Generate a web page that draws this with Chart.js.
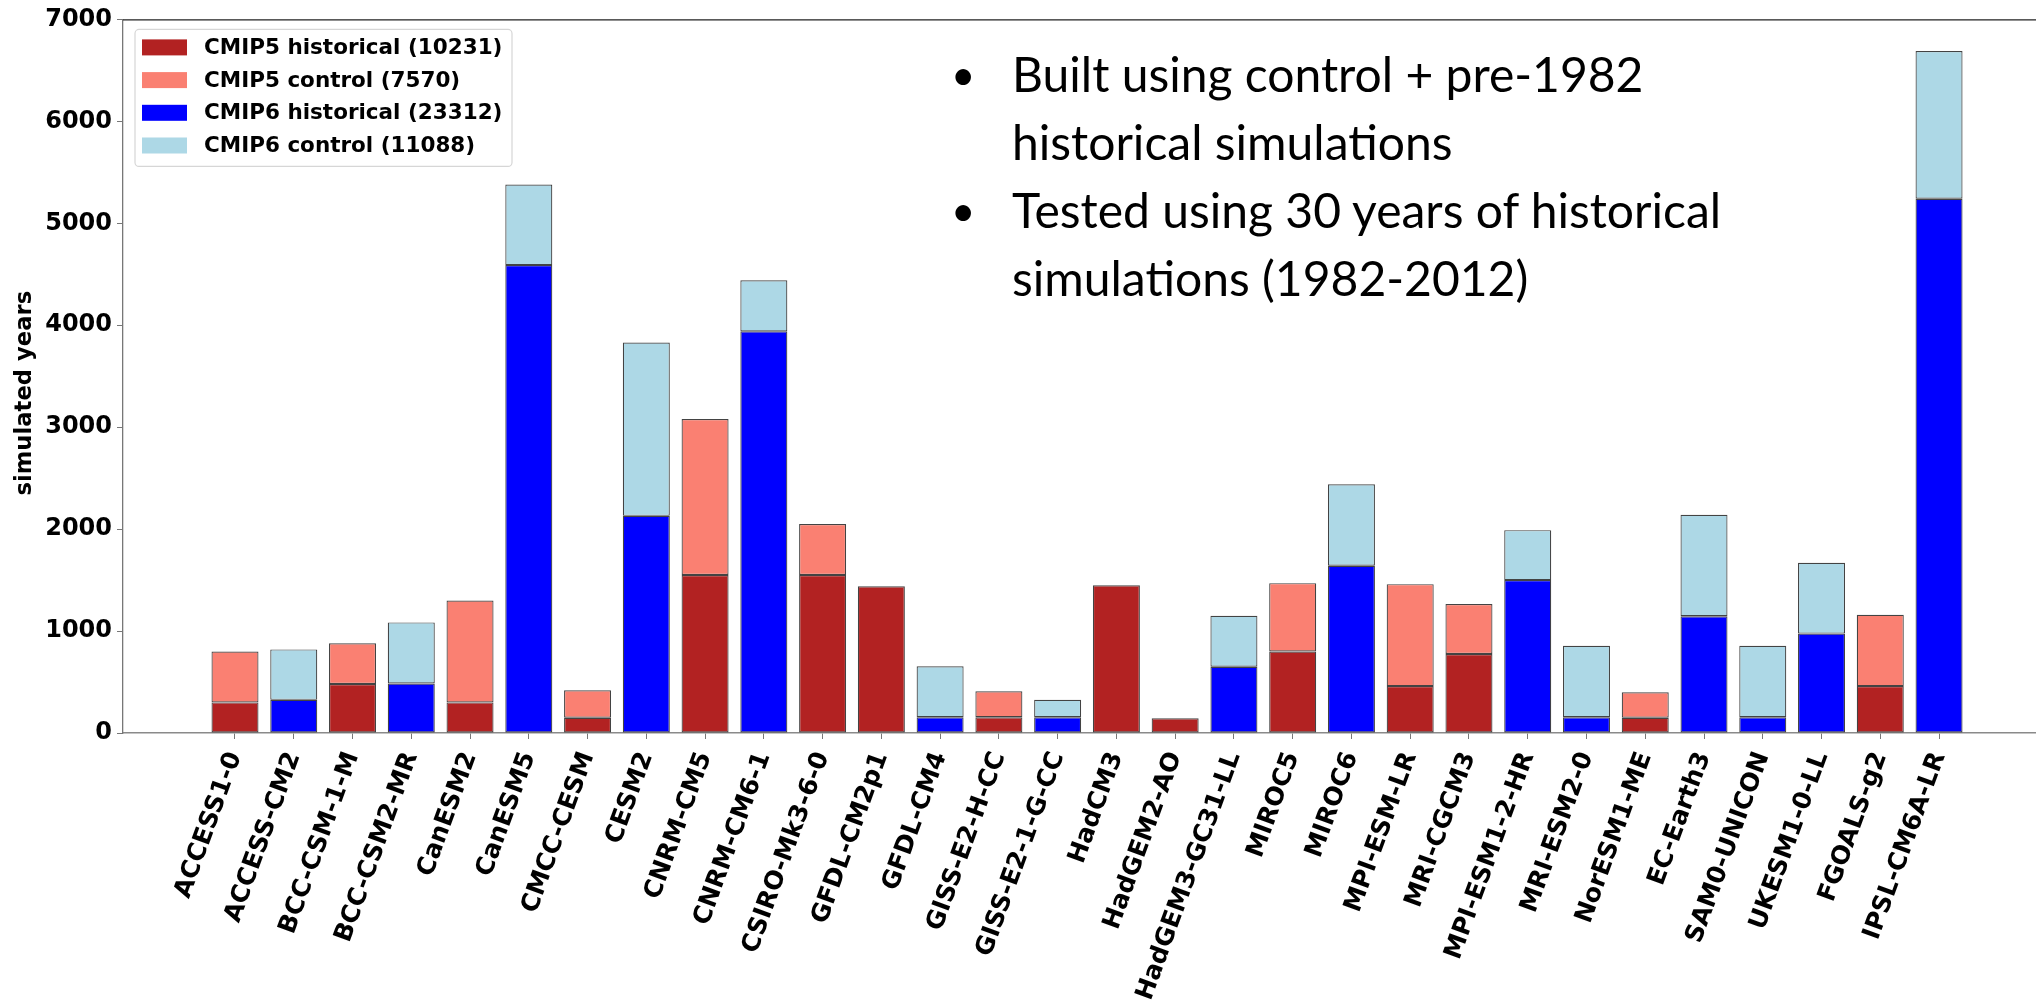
<!DOCTYPE html>
<html>
<head>
<meta charset="utf-8">
<script src="https://cdn.jsdelivr.net/npm/chart.js@4.4.1/dist/chart.umd.min.js"></script>
<style>
  html, body { margin: 0; padding: 0; background: #ffffff; }
  #wrap { position: relative; width: 2036px; height: 1002px; overflow: hidden; }
  #c { position: absolute; left: 0; top: 0; }
  #note { position: absolute; left: 951px; top: 40px; font-family: Lato, "Open Sans", sans-serif; font-size: 48px; line-height: 68px; color: #000; white-space: nowrap; }
  #note .item { position: relative; padding-left: 61px; }
  #note .dot { position: absolute; left: 0; top: 0; font-size: 42px; }
</style>
</head>
<body>
<div id="wrap">
  <canvas id="c" width="2036" height="1002"></canvas>
  <div id="note">
    <div class="item"><span class="dot">•</span>Built using control + pre-1982<br>historical simulations</div>
    <div class="item"><span class="dot">•</span>Tested using 30 years of historical<br>simulations (1982-2012)</div>
  </div>
</div>
<script>
// ---- data ----
const categories = ["ACCESS1-0","ACCESS-CM2","BCC-CSM-1-M","BCC-CSM2-MR","CanESM2","CanESM5","CMCC-CESM","CESM2","CNRM-CM5","CNRM-CM6-1","CSIRO-Mk3-6-0","GFDL-CM2p1","GFDL-CM4","GISS-E2-H-CC","GISS-E2-1-G-CC","HadCM3","HadGEM2-AO","HadGEM3-GC31-LL","MIROC5","MIROC6","MPI-ESM-LR","MRI-CGCM3","MPI-ESM1-2-HR","MRI-ESM2-0","NorESM1-ME","EC-Earth3","SAM0-UNICON","UKESM1-0-LL","FGOALS-g2","IPSL-CM6A-LR"];

const cmip5Historical = [300,null,480,null,300,null,150,null,1550,null,1550,1440,null,155,null,1450,145,null,800,null,460,775,null,null,150,null,null,null,460,null];
const cmip5Control    = [500,null,400,null,1000,null,270,null,1530,null,500,null,null,255,null,null,null,null,670,null,1000,490,null,null,250,null,null,null,700,null];
const cmip6Historical = [null,325,null,485,null,4590,null,2130,null,3940,null,null,155,null,155,null,null,650,null,1640,null,null,1500,155,null,1145,155,975,null,5240];
const cmip6Control    = [null,495,null,600,null,790,null,1700,null,500,null,null,500,null,170,null,null,500,null,800,null,null,490,700,null,995,700,695,null,1450];

const seriesLabels = ["CMIP5 historical (10231)","CMIP5 control (7570)","CMIP6 historical (23312)","CMIP6 control (11088)"];
const yTicks = [0,1000,2000,3000,4000,5000,6000,7000];
const yTitle = "simulated years";

const colors = ["#b22222","#fa8072","#0000ff","#add8e6"];
const seriesValues = [cmip5Historical, cmip5Control, cmip6Historical, cmip6Control];

const toPoints = arr => categories.map((c, i) => ({ x: i, y: arr[i] }));

const datasets = seriesValues.map((arr, k) => ({
  label: seriesLabels[k],
  data: toPoints(arr),
  backgroundColor: colors[k],
  borderColor: "rgba(20,20,20,0.8)",
  borderWidth: 1.2,
  borderSkipped: false,
  stack: "all",
  categoryPercentage: 1.0,
  barPercentage: 0.8
}));

const yTickFont = { family: "'DejaVu Sans', sans-serif", size: 24, weight: "bold" };
const xTickFont = { family: "'DejaVu Sans', sans-serif", size: 25, weight: "bold" };

const decorPlugin = {
  id: "decor",
  afterDraw(chart) {
    const { ctx, chartArea } = chart;
    ctx.save();
    // top spine
    ctx.strokeStyle = "#222";
    ctx.lineWidth = 1.3;
    ctx.beginPath();
    ctx.moveTo(chartArea.left, chartArea.top + 0.5);
    ctx.lineTo(chartArea.right, chartArea.top + 0.5);
    ctx.stroke();
    // y axis title
    ctx.save();
    ctx.translate(25, chartArea.top + (chartArea.bottom - chartArea.top) / 2 + 17);
    ctx.rotate(-Math.PI / 2);
    ctx.font = "bold 22.7px 'DejaVu Sans', sans-serif";
    ctx.fillStyle = "#000";
    ctx.textAlign = "center";
    ctx.textBaseline = "middle";
    ctx.fillText(yTitle, 0, 0);
    ctx.restore();
    // legend frame
    const fx = chartArea.left + 12, fy = chartArea.top + 10, fw = 377, fh = 137;
    ctx.fillStyle = "rgba(255,255,255,0.85)";
    ctx.strokeStyle = "#d6d6d6";
    ctx.lineWidth = 1.2;
    ctx.beginPath();
    ctx.roundRect(fx, fy, fw, fh, 4);
    ctx.fill();
    ctx.stroke();
    // legend entries
    ctx.font = "bold 21.5px 'DejaVu Sans', sans-serif";
    ctx.textBaseline = "middle";
    ctx.textAlign = "left";
    chart.data.datasets.forEach((ds, i) => {
      const cy = chartArea.top + 28 + i * 32.7;
      ctx.fillStyle = ds.backgroundColor;
      ctx.fillRect(fx + 7, cy - 8, 45, 16);
      ctx.fillStyle = "#000";
      ctx.fillText(ds.label, fx + 69, cy + 1);
    });
    ctx.restore();
  }
};

new Chart(document.getElementById("c"), {
  type: "bar",
  data: { datasets },
  options: {
    responsive: false,
    animation: false,
    devicePixelRatio: 1,
    layout: { padding: { top: 15, right: 0, bottom: 0, left: 0 } },
    plugins: {
      legend: { display: false },
      tooltip: { enabled: false }
    },
    scales: {
      x: {
        type: "linear",
        stacked: true,
        offset: false,
        min: -1.906,
        max: 30.65,
        afterBuildTicks: scale => { scale.ticks = categories.map((c, i) => ({ value: i })); },
        afterFit: scale => { scale.height = 269; },
        ticks: {
          autoSkip: false,
          minRotation: 70,
          maxRotation: 70,
          padding: 9,
          color: "#000",
          font: xTickFont,
          callback: v => categories[v]
        },
        grid: { display: true, drawOnChartArea: false, drawTicks: true, tickLength: 6, color: "#777", offset: false },
        border: { display: true, color: "#8a8a8a", width: 1.5 }
      },
      y: {
        stacked: true,
        min: 0,
        max: 7000,
        afterBuildTicks: scale => { scale.ticks = yTicks.map(v => ({ value: v })); },
        afterFit: scale => { scale.width = 123; },
        ticks: { color: "#000", font: yTickFont, padding: 5, callback: v => String(v) },
        grid: { display: true, drawOnChartArea: false, drawTicks: true, tickLength: 6, color: "#777" },
        border: { display: true, color: "#777", width: 1.3 },
        title: { display: false, text: yTitle }
      }
    }
  },
  plugins: [decorPlugin]
});
</script>
</body>
</html>
